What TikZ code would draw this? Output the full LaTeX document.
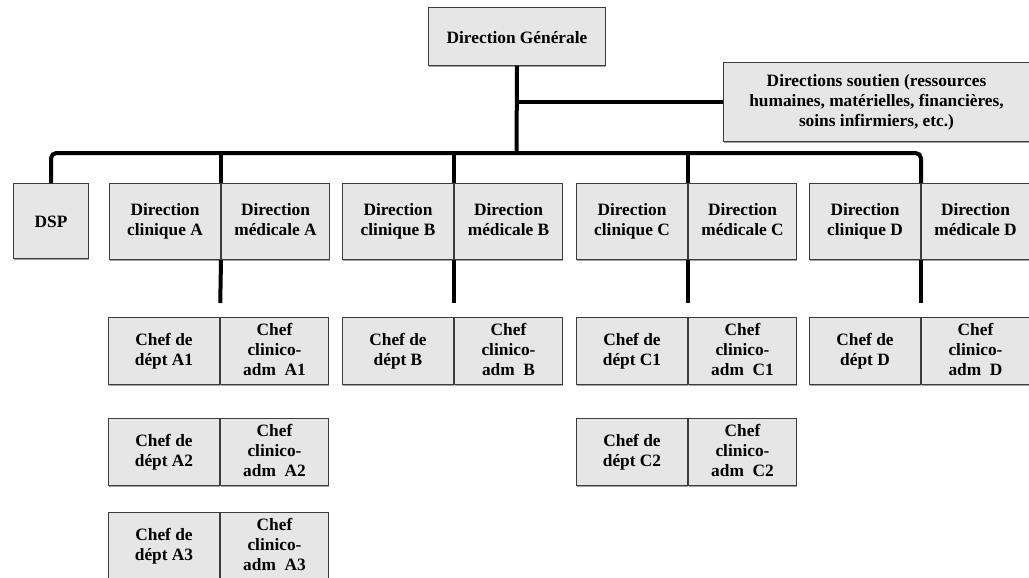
\documentclass[tikz,border=0pt]{standalone}
\usepackage{fontspec}
\setmainfont{Liberation Serif}
\usetikzlibrary{positioning,shadows}

\definecolor{boxgray}{RGB}{230,230,230}
\definecolor{edgegray}{RGB}{60,60,60}

\tikzset{every picture/.style={line width=0.75pt}}
\tikzset{
  unit/.style={draw=edgegray, fill=boxgray, inner sep=0pt, align=center,
    font=\fontsize{13}{15}\selectfont\bfseries,
    execute at begin node=\rule{0pt}{13pt}, execute at end node=\rule[-2.8pt]{0pt}{0pt},
    drop shadow={shadow xshift=0.4pt, shadow yshift=-0.9pt, opacity=0.6, fill=black!60}},
  dirbox/.style={unit, minimum height=57pt},
  chefbox/.style={unit, minimum height=50.25pt},
  leftcell/.style={minimum width=83.25pt},
  rightcell/.style={minimum width=81pt},
  conn/.style={line width=3pt, black},
}

\begin{document}
\begin{tikzpicture}[x=0.75pt,y=0.75pt,yscale=-1,xscale=1]
\useasboundingbox (0,0) rectangle (1029,578);

%Top level
\node [unit, anchor=north west, minimum width=132.75pt, minimum height=43.5pt] (dg) at (428,7) {Direction Générale};
\node [unit, anchor=north west, minimum width=229.5pt, minimum height=59.25pt] (soutien) at (723,62)
  {Directions soutien (ressources\\humaines, matérielles, financières,\\soins infirmiers, etc.)};
\coordinate (bus) at (516.5,153);

%Directions
\node [dirbox, anchor=north west, minimum width=56.25pt, minimum height=56.25pt] (dsp) at (13,183) {DSP};
\node [dirbox, leftcell, anchor=north west] (clinA) at (109,183) {Direction\\clinique A};
\node [dirbox, rightcell, right=0pt of clinA] (medA) {Direction\\médicale A};
\node [dirbox, leftcell, anchor=north west] (clinB) at (342,183) {Direction\\clinique B};
\node [dirbox, rightcell, right=0pt of clinB] (medB) {Direction\\médicale B};
\node [dirbox, leftcell, anchor=north west] (clinC) at (576,183) {Direction\\clinique C};
\node [dirbox, rightcell, right=0pt of clinC] (medC) {Direction\\médicale C};
\node [dirbox, leftcell, anchor=north west] (clinD) at (809,183) {Direction\\clinique D};
\node [dirbox, rightcell, right=0pt of clinD] (medD) {Direction\\médicale D};

%Chefs
\node [chefbox, leftcell, anchor=north west] (deptA1) at (108,317) {Chef de\\dépt A1};
\node [chefbox, rightcell, right=0pt of deptA1] (admA1) {Chef\\clinico-\\adm\ \ A1};
\node [chefbox, leftcell, anchor=north west] (deptA2) at (108,418) {Chef de\\dépt A2};
\node [chefbox, rightcell, right=0pt of deptA2] (admA2) {Chef\\clinico-\\adm\ \ A2};
\node [chefbox, leftcell, anchor=north west] (deptA3) at (108,512) {Chef de\\dépt A3};
\node [chefbox, rightcell, right=0pt of deptA3] (admA3) {Chef\\clinico-\\adm\ \ A3};
\node [chefbox, leftcell, anchor=north west] (deptB) at (342,317) {Chef de\\dépt B};
\node [chefbox, rightcell, right=0pt of deptB] (admB) {Chef\\clinico-\\adm\ \ B};
\node [chefbox, leftcell, anchor=north west] (deptC1) at (576,317) {Chef de\\dépt C1};
\node [chefbox, rightcell, right=0pt of deptC1] (admC1) {Chef\\clinico-\\adm\ \ C1};
\node [chefbox, leftcell, anchor=north west] (deptC2) at (576,418) {Chef de\\dépt C2};
\node [chefbox, rightcell, right=0pt of deptC2] (admC2) {Chef\\clinico-\\adm\ \ C2};
\node [chefbox, leftcell, anchor=north west] (deptD) at (809,317) {Chef de\\dépt D};
\node [chefbox, rightcell, right=0pt of deptD] (admD) {Chef\\clinico-\\adm\ \ D};

%Connectors
\draw [conn] (dg.south) -- (bus);
\draw [conn] (soutien.west) -- (soutien.west -| dg.south);
\draw [conn, rounded corners=4pt] (dsp.north) |- (bus) -| (clinD.north east);
\draw [conn] (clinA.north east |- bus) -- (clinA.north east);
\draw [conn] (clinB.north east |- bus) -- (clinB.north east);
\draw [conn] (clinC.north east |- bus) -- (clinC.north east);
\draw [conn, shorten >=10.5pt] (clinA.south east) -- (deptA1.north east);
\draw [conn, shorten >=10.5pt] (clinB.south east) -- (deptB.north east);
\draw [conn, shorten >=10.5pt] (clinC.south east) -- (deptC1.north east);
\draw [conn, shorten >=10.5pt] (clinD.south east) -- (deptD.north east);

\end{tikzpicture}
\end{document}
